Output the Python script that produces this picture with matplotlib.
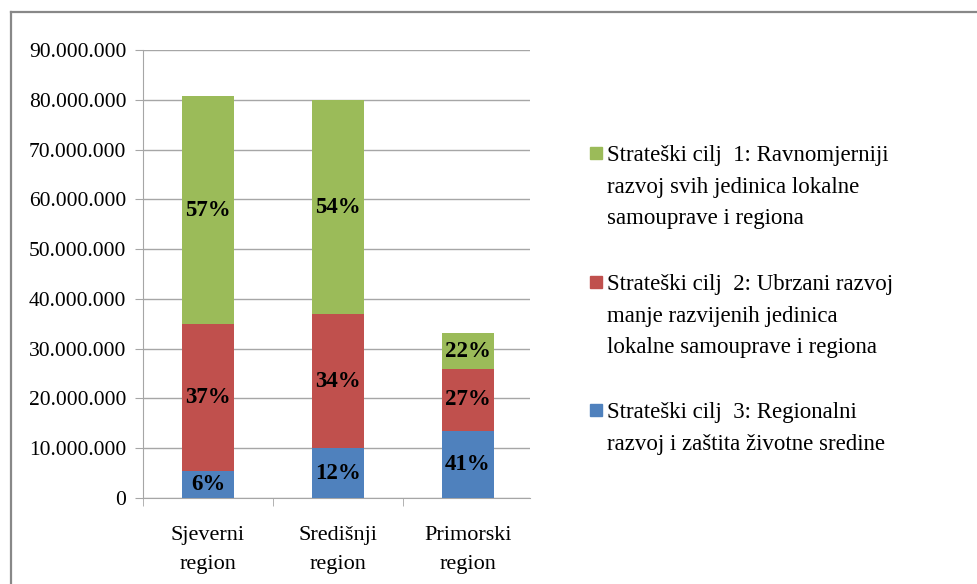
import matplotlib
matplotlib.use("Agg")
import matplotlib.pyplot as plt
from matplotlib.ticker import FuncFormatter, FixedLocator
from matplotlib.lines import Line2D
from matplotlib.patches import Rectangle
import numpy as np

categories = ["Sjeverni\nregion", "Središnji\nregion", "Primorski\nregion"]
cilj3 = [5.4e6, 10.0e6, 13.5e6]
cilj2 = [29.5e6, 26.9e6, 12.4e6]
cilj1 = [45.8e6, 43.1e6, 7.2e6]
pct3 = ["6%", "12%", "41%"]
pct2 = ["37%", "34%", "27%"]
pct1 = ["57%", "54%", "22%"]
labels = [
    "Strateški cilj  1: Ravnomjerniji\nrazvoj svih jedinica lokalne\nsamouprave i regiona",
    "Strateški cilj  2: Ubrzani razvoj\nmanje razvijenih jedinica\nlokalne samouprave i regiona",
    "Strateški cilj  3: Regionalni\nrazvoj i zaštita životne sredine",
]
colors = ["#9BBB59", "#C0504D", "#4F81BD"]

plt.rcParams['font.family'] = ['Liberation Serif', 'DejaVu Serif']

W, H = 978, 584
fig = plt.figure(figsize=(W / 100, H / 100), dpi=100)

# outer border
fig.add_artist(Line2D([11 / W, 11 / W], [0, 1 - 12 / H], color="#888888", lw=1.6, transform=fig.transFigure))
fig.add_artist(Line2D([11 / W, 1], [1 - 12 / H, 1 - 12 / H], color="#888888", lw=1.6, transform=fig.transFigure))

ax = fig.add_axes([143 / W, (H - 498) / H, (530 - 143) / W, (498 - 50) / H])
x = np.arange(len(categories))
w = 0.4
b3 = ax.bar(x, cilj3, w, color=colors[2], zorder=3)
b2 = ax.bar(x, cilj2, w, bottom=cilj3, color=colors[1], zorder=3)
bottom1 = np.array(cilj3) + np.array(cilj2)
b1 = ax.bar(x, cilj1, w, bottom=bottom1, color=colors[0], zorder=3)

for i in range(len(categories)):
    ax.text(x[i], cilj3[i] / 2, pct3[i], ha="center", va="center", fontsize=16.5, fontweight="bold", zorder=4)
    ax.text(x[i], cilj3[i] + cilj2[i] / 2, pct2[i], ha="center", va="center", fontsize=16.5, fontweight="bold", zorder=4)
    ax.text(x[i], bottom1[i] + cilj1[i] / 2, pct1[i], ha="center", va="center", fontsize=16.5, fontweight="bold", zorder=4)

ax.set_xlim(-0.5, 2.48)
ax.set_ylim(0, 90e6)
ax.set_yticks(np.arange(0, 90e6 + 1, 10e6))
ax.yaxis.set_major_formatter(FuncFormatter(lambda v, p: f"{int(v):,}".replace(",", ".")))
ax.grid(axis="y", color="#A6A6A6", lw=1, zorder=0)
ax.set_xticks(x)
ax.set_xticklabels(categories, fontsize=16, linespacing=1.75)
ax.xaxis.set_minor_locator(FixedLocator([-0.5, 0.5, 1.5, 2.5]))
ax.tick_params(axis="x", which="major", length=0, pad=20)
ax.tick_params(axis="x", which="minor", length=6, color="#A6A6A6", direction="out")
ax.tick_params(axis="y", length=6, color="#A6A6A6", labelsize=15.5, pad=6)
for s in ["top", "right"]:
    ax.spines[s].set_visible(False)
ax.spines["left"].set_color("#A6A6A6")
ax.spines["bottom"].set_color("#A6A6A6")

# legend (drawn manually so the markers sit at the first line of each entry)
first_line_y = [153, 282, 410]
for lab, col, yy in zip(labels, colors, first_line_y):
    fig.add_artist(Rectangle((590 / W, 1 - (yy + 6) / H), 12 / W, 12 / H, color=col,
                             transform=fig.transFigure))
    fig.text(607 / W, 1 - (yy - 8) / H, lab, ha="left", va="top", fontsize=16.5,
             linespacing=1.66)

fig.savefig("out.png", dpi=100)
